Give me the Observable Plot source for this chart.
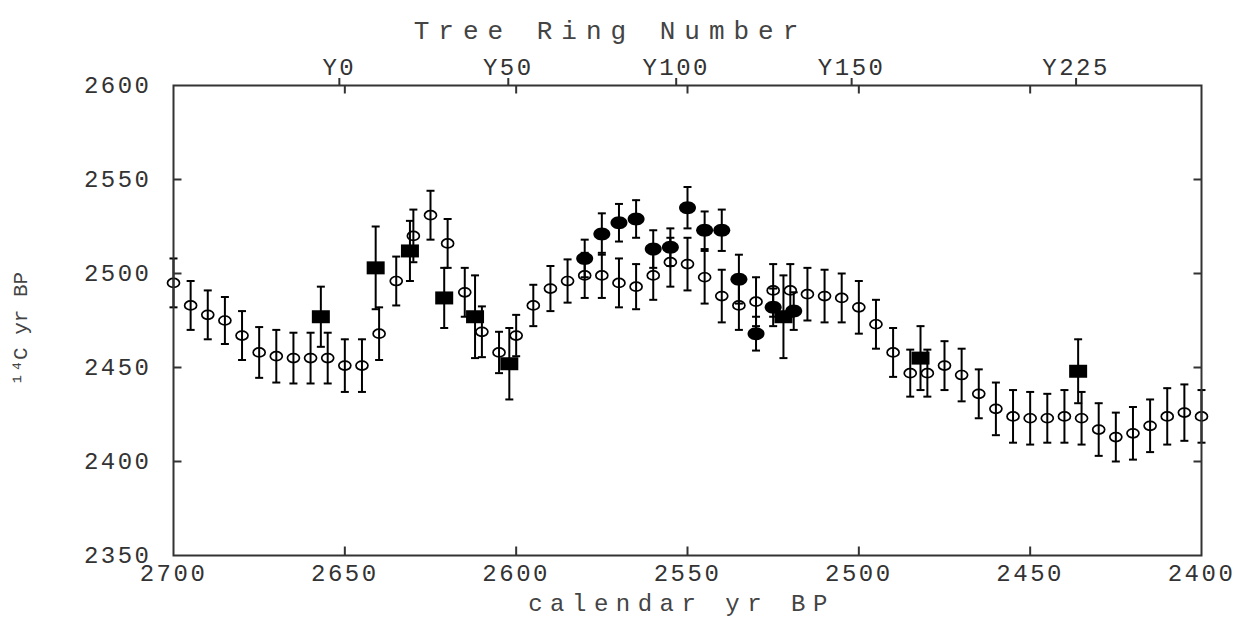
<!DOCTYPE html>
<html>
<head>
<meta charset="utf-8">
<script src="https://cdn.jsdelivr.net/npm/d3@7"></script>
<script src="https://cdn.jsdelivr.net/npm/@observablehq/plot@0.6"></script>
<style>
  body { margin: 0; background: #fff; }
  #chart text { letter-spacing: 2.5px; }
  #chart text[aria-label="title-top"] { letter-spacing: 9px; }
  #chart text[aria-label="title-bottom"] { letter-spacing: 7.5px; }
  #chart text[aria-label="title-left"] { letter-spacing: 0px; }
</style>
</head>
<body>
<div id="chart"></div>
<script>
// ---- Data ----
// Open circles: calendar yr BP, 14C yr BP, 1-sigma error
const openYear = [2700,2695,2690,2685,2680,2675,2670,2665,2660,2655,2650,2645,2640,2635,2630,2625,2620,2615,2610,2605,2600,2595,2590,2585,2580,2575,2570,2565,2560,2555,2550,2545,2540,2535,2530,2525,2520,2515,2510,2505,2500,2495,2490,2485,2480,2475,2470,2465,2460,2455,2450,2445,2440,2435,2430,2425,2420,2415,2410,2405,2400];
const openC14  = [2495,2483,2478,2475,2467,2458,2456,2455,2455,2455,2451,2451,2468,2496,2520,2531,2516,2490,2469,2458,2467,2483,2492,2496,2499,2499,2495,2493,2499,2506,2505,2498,2488,2483,2485,2491,2491,2489,2488,2487,2482,2473,2458,2447,2447,2451,2446,2436,2428,2424,2423,2423,2424,2423,2417,2413,2415,2419,2424,2426,2424];
const openErr  = [13,13,13,12.5,13,13.5,14,13.5,13.5,13.5,14,14,14,13,14,13,13,13,13.5,11,11,11,12,11.5,12,12,13,12,13,13,14,14,14,13,13,14,14,14,14,13,14,13,13,12.5,12.5,13,14,13,14,14,14,13,14,14,14,13,14,14,15,15,14];

// Filled squares
const squareYear = [2657,2641,2631,2621,2612,2602,2522,2482,2436];
const squareC14  = [2477,2503,2512,2487,2477,2452,2477,2455,2448];
const squareErr  = [16,22,16,16,22,19,22,17,17];

// Filled circles
const fillYear = [2580,2575,2570,2565,2560,2555,2550,2545,2540,2535,2530,2525,2519];
const fillC14  = [2508,2521,2527,2529,2513,2514,2535,2523,2523,2497,2468,2482,2480];
const fillErr  = [10,11,10,10,10,10,11,10,11,13,9,10,10];

// Axes
const xTicks = [2700,2650,2600,2550,2500,2450,2400];
const xInnerTicks = [2650,2600,2550,2500,2450];
const yTicks = [2350,2400,2450,2500,2550,2600];
const yInnerTicks = [2400,2450,2500,2550];
const ringYears  = [2651.6,2602.3,2553.3,2502.1,2436.6];
const ringLabels = ["Y0","Y50","Y100","Y150","Y225"];

const xTitle = "calendar yr BP";
const topTitle = "Tree Ring Number";
const yTitle = "\u00B9\u2074C yr BP";

// ---- Build tables ----
const zip = (xs, ys, es) => xs.map((x, i) => ({x, y: ys[i], e: es[i]}));
const openData = zip(openYear, openC14, openErr);
const squareData = zip(squareYear, squareC14, squareErr);
const fillData = zip(fillYear, fillC14, fillErr);
const allData = [...openData, ...squareData, ...fillData];

// ---- Custom symbols ----
function ellipseSym(rx, ry) {
  const k = 0.5523;
  return {draw(c) {
    c.moveTo(rx, 0);
    c.bezierCurveTo(rx, ry * k, rx * k, ry, 0, ry);
    c.bezierCurveTo(-rx * k, ry, -rx, ry * k, -rx, 0);
    c.bezierCurveTo(-rx, -ry * k, -rx * k, -ry, 0, -ry);
    c.bezierCurveTo(rx * k, -ry, rx, -ry * k, rx, 0);
    c.closePath();
  }};
}
const rectSym = (w, h) => ({draw(c) { c.rect(-w / 2, -h / 2, w, h); }});
const segSym = (x1, y1, x2, y2) => ({draw(c) { c.moveTo(x1, y1); c.lineTo(x2, y2); }});
const capSym = segSym(-4, 0, 4, 0);

const tickFont = "Liberation Mono, DejaVu Sans Mono, monospace";
const ink = "#333";
const plain = d => String(d);

const chart = Plot.plot({
  width: 1234,
  height: 621,
  marginLeft: 173,
  marginRight: 33,
  marginTop: 85,
  marginBottom: 66,
  style: {background: "#fff", color: ink},
  x: {domain: [2700, 2400]},
  y: {domain: [2350, 2600]},
  marks: [
    // error bars
    Plot.ruleX(allData, {x: "x", y1: d => d.y - d.e, y2: d => d.y + d.e, stroke: "#000", strokeWidth: 2}),
    Plot.dot(allData, {x: "x", y: d => d.y + d.e, symbol: capSym, stroke: "#000", strokeWidth: 2}),
    Plot.dot(allData, {x: "x", y: d => d.y - d.e, symbol: capSym, stroke: "#000", strokeWidth: 2}),
    // markers
    Plot.dot(openData, {x: "x", y: "y", symbol: ellipseSym(6, 4.5), fill: "none", stroke: "#000", strokeWidth: 1.7}),
    Plot.dot(squareData, {x: "x", y: "y", symbol: rectSym(18, 13), fill: "#000", stroke: "none"}),
    Plot.dot(fillData, {x: "x", y: "y", symbol: ellipseSym(8.5, 6.5), fill: "#000", stroke: "none"}),
    // frame
    Plot.frame({stroke: ink, strokeWidth: 2}),
    // inward ticks
    Plot.dot(xInnerTicks, {x: d => d, frameAnchor: "bottom", symbol: segSym(0, 0, 0, -9), stroke: ink, strokeWidth: 2}),
    Plot.dot(xInnerTicks, {x: d => d, frameAnchor: "top", symbol: segSym(0, 0, 0, 8), stroke: ink, strokeWidth: 2}),
    Plot.dot(yInnerTicks, {y: d => d, frameAnchor: "left", symbol: segSym(0, 0, 8, 0), stroke: ink, strokeWidth: 2}),
    Plot.dot(yInnerTicks, {y: d => d, frameAnchor: "right", symbol: segSym(0, 0, -8, 0), stroke: ink, strokeWidth: 2}),
    // axes
    Plot.axisY(yTicks, {anchor: "left", tickSize: 0, tickPadding: 22, label: null, fontSize: 24, fontFamily: tickFont, color: ink, tickFormat: plain}),
    Plot.axisX(xTicks, {anchor: "bottom", tickSize: 0, tickPadding: 8, label: null, fontSize: 24, fontFamily: tickFont, color: ink, tickFormat: plain}),
    Plot.axisX(ringYears, {anchor: "top", tickSize: 8, tickPadding: 3, strokeWidth: 2, label: null, fontSize: 24, fontFamily: tickFont, color: ink,
      tickFormat: d => ringLabels[ringYears.indexOf(d)]}),
    // titles
    Plot.text([topTitle], {text: d => d, frameAnchor: "top", textAnchor: "middle", dx: -77, dy: -65, fontSize: 26, fontFamily: tickFont, fill: "#444", ariaLabel: () => "title-top"}),
    Plot.text([xTitle], {text: d => d, frameAnchor: "bottom", textAnchor: "middle", dx: -6, dy: 55, fontSize: 24, fontFamily: tickFont, fill: "#444", ariaLabel: () => "title-bottom"}),
    Plot.text([yTitle], {text: d => d, frameAnchor: "left", textAnchor: "middle", dx: -153, dy: 8, rotate: -90, fontSize: 21, fontFamily: tickFont, fill: "#444", ariaLabel: () => "title-left"})
  ]
});
document.getElementById("chart").appendChild(chart);
</script>
</body>
</html>
